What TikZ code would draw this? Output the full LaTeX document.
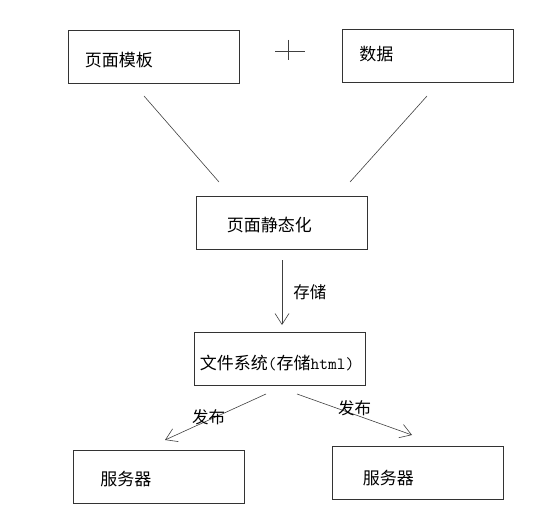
\documentclass[tikz,border=0pt]{standalone}
\usepackage{fontspec}
\newfontfamily\cjk{Noto Sans CJK SC}
\usetikzlibrary{positioning,arrows.meta}

\begin{document}
\begin{tikzpicture}[
    x=1pt, y=-1pt,
    box/.style={draw=black!80, line width=0.8pt, minimum width=171pt, minimum height=53pt, inner sep=0pt},
    txt/.style={font={\cjk\fontsize{17}{20}\selectfont}, inner sep=0pt},
    lbl/.style={font={\cjk\fontsize{16.5}{20}\selectfont}, inner sep=0pt},
    ln/.style={draw=black!75, line width=0.6pt},
    arr/.style={draw=black!75, line width=0.6pt, -{Straight Barb[length=11pt,width=14pt]}}
]
\useasboundingbox (0,0) rectangle (559,529);

% Boxes
\node[box] (tpl) at (153.5,56.5) {};
\node[box] (data) at (428,55.5) {};
\node[box] (static) at (281.5,223) {};
\node[box] (fs) at (279.5,359) {};
\node[box] (srvl) at (159,476.5) {};
\node[box] (srvr) at (417.5,472.5) {};

% Box texts
\node[txt, right=17pt of tpl.west, yshift=-3.5pt] (tpl-txt) {页面模板};
\node[txt, right=17pt of data.west, yshift=1.5pt] (data-txt) {数据};
\node[txt, right=31pt of static.west, yshift=-2pt] (static-txt) {页面静态化};
\node[txt, right=6pt of fs.west, yshift=-4pt] (fs-txt) {文件系统{\ttfamily(}存储{\ttfamily html)}};
\node[txt, right=27pt of srvl.west, yshift=-2.5pt] (srvl-txt) {服务器};
\node[txt, right=31pt of srvr.west, yshift=-5.5pt] (srvr-txt) {服务器};

% Plus sign
\draw[ln] (275,51) -- (305,51);
\draw[ln] (288,40) -- (288,60);

% Connector ends
\coordinate (l1a) at (144,96);  \coordinate (l1b) at (219,182);
\coordinate (l2a) at (427,96);  \coordinate (l2b) at (350,182);
\coordinate (a1) at (282,260);  \coordinate (a2) at (282,325);
\coordinate (b1) at (266,394);  \coordinate (b2) at (165,440);
\coordinate (c1) at (297,394);  \coordinate (c2) at (412,435);

% Connectors
\draw[ln] (l1a) -- (l1b);
\draw[ln] (l2a) -- (l2b);
\draw[arr] (a1) -- (a2) node[lbl, midway, right=11pt] (store) {存储};
\draw[arr] (b1) -- (b2) node[lbl, midway, xshift=-7pt] (publ) {发布};
\draw[arr] (c1) -- (c2) node[lbl, midway, yshift=6.5pt] (pubr) {发布};

\end{tikzpicture}
\end{document}
